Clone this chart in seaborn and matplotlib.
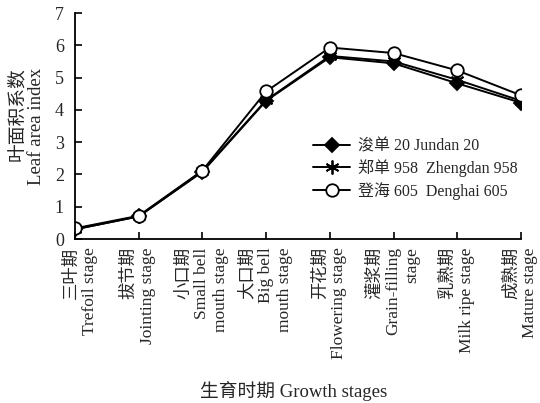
import matplotlib
matplotlib.use("Agg")
import matplotlib.pyplot as plt
import matplotlib.transforms as mtransforms
import seaborn as sns
import pandas as pd

# Growth stages (Chinese / English, wrapped for vertical labels)
stages = [
    "三叶期\nTrefoil stage",
    "拔节期\nJointing stage",
    "小口期\nSmall bell\nmouth stage",
    "大口期\nBig bell\nmouth stage",
    "开花期\nFlowering stage",
    "灌浆期\nGrain-filling\nstage",
    "乳熟期\nMilk ripe stage",
    "成熟期\nMature stage",
]

# Leaf area index per variety at each stage
jundan20 = [0.30, 0.70, 2.08, 4.28, 5.63, 5.44, 4.82, 4.22]
zhengdan958 = [0.30, 0.70, 2.10, 4.30, 5.67, 5.50, 4.93, 4.28]
denghai605 = [0.33, 0.72, 2.12, 4.57, 5.93, 5.76, 5.22, 4.45]

series_labels = ["浚单 20 Jundan 20", "郑单 958  Zhengdan 958", "登海 605  Denghai 605"]
y_ticks = [0, 1, 2, 3, 4, 5, 6, 7]

sns.set_style("ticks")
plt.rcParams["font.family"] = ["Liberation Serif", "Noto Sans CJK SC"]
plt.rcParams["xtick.direction"] = "in"
plt.rcParams["ytick.direction"] = "in"

fig = plt.figure(figsize=(5.4, 4.03), dpi=100)
ax = fig.add_axes([75 / 540, 1 - 239 / 403, 446 / 540, 226 / 403])

pos = list(range(len(stages)))
styles = [
    (jundan20, "D", "black", 7),
    (zhengdan958, (6, 2, 0), "black", 10),
    (denghai605, "o", "white", 9),
]
for (vals, mk, fc, ms), lab in zip(styles, series_labels):
    df = pd.DataFrame({"stage": pos, "lai": vals})
    sns.lineplot(data=df, x="stage", y="lai", ax=ax, color="black",
                 linewidth=1.4, marker=mk, markersize=ms,
                 markerfacecolor=fc, markeredgecolor="black",
                 markeredgewidth=1.3, label=lab)

ax.set_xlim(0, len(stages) - 1)
ax.set_ylim(0, 7)
ax.set_yticks(y_ticks)
ax.set_yticklabels([str(t) for t in y_ticks], fontsize=13)
ax.set_xticks(pos)
ax.set_xticklabels(stages, rotation=90, ha="center", va="top",
                   multialignment="right", fontsize=12.5)
ax.tick_params(axis="both", length=5, width=1.2, color="black")
ax.tick_params(axis="x", pad=6)
ax.tick_params(axis="y", pad=8)
for s in ["left", "bottom"]:
    ax.spines[s].set_linewidth(1.3)
    ax.spines[s].set_color("black")
sns.despine(ax=ax)

# nudge the first stage label clear of the y tick labels
first = ax.get_xticklabels()[0]
first.set_transform(first.get_transform() +
                    mtransforms.ScaledTranslation(6 / 100, 0, fig.dpi_scale_trans))

ax.set_xlabel("生育时期 Growth stages", fontsize=13.5)
ax.xaxis.set_label_coords(0.49, -0.63)
ax.set_ylabel("叶面积系数\nLeaf area index", fontsize=13.5,
              multialignment="right", linespacing=1.1)
ax.yaxis.set_label_coords(-0.068, 0.5)

leg = ax.legend(loc="upper left", bbox_to_anchor=(0.52, 0.473), frameon=False,
                fontsize=11.5, handlelength=2.3, handletextpad=0.5,
                labelspacing=0.3, borderaxespad=0)

fig.savefig("out.png", dpi=100)
